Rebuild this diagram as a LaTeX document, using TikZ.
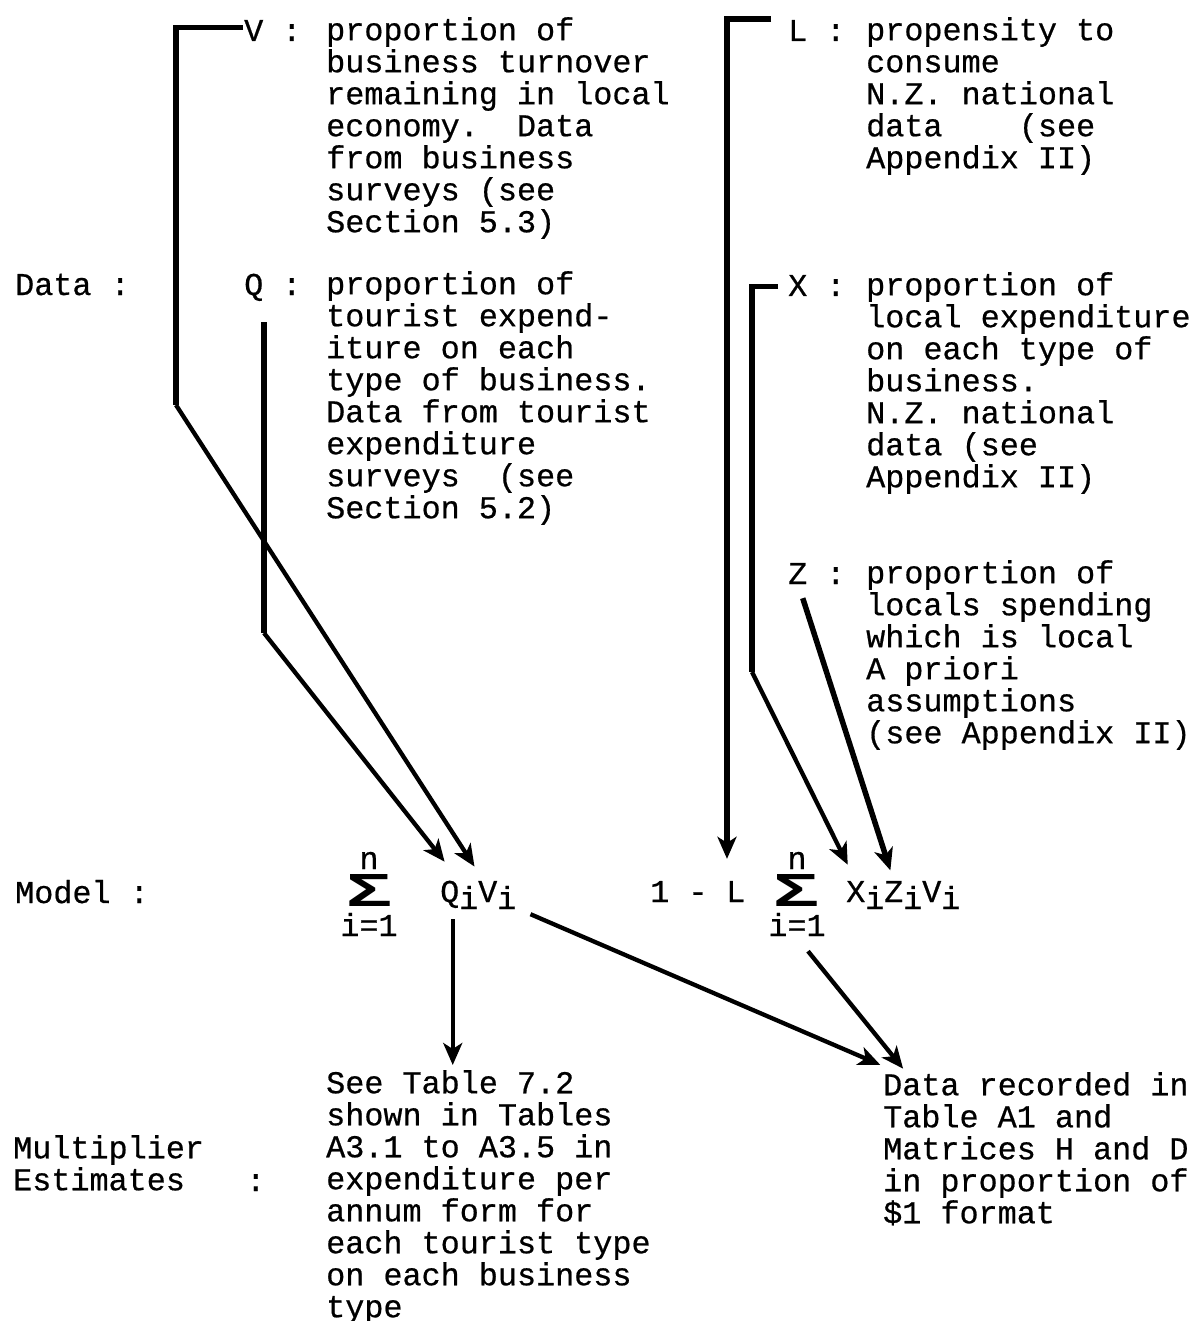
\documentclass[tikz,border=0pt]{standalone}
\usepackage{fontspec}
\setmainfont{Liberation Mono}[FakeBold=0.6]
\newfontfamily\sigfont{Liberation Sans}
\usetikzlibrary{arrows.meta,calc}

\begin{document}
\begin{tikzpicture}[x=1pt, y=-1pt, >={Stealth[length=22pt,width=19pt,inset=6pt]},
		font=\fontsize{31.8}{32}\selectfont\frenchspacing,
		txt/.style={anchor=base west, align=left, inner sep=0pt},
		blk/.style={anchor=north west, align=left, inner sep=0pt, execute at begin node=\rule{0pt}{24pt}},
		lim/.style={anchor=base, inner sep=0pt},
		lead/.style={line width=5.5pt},
		feed/.style={line width=4.3pt}]
		\useasboundingbox (0,0) rectangle (1193,1321);
		\coordinate (vK) at (176,405);
		\coordinate (qK) at (264,633);
		\coordinate (xK) at (752,672);
		% row titles (blocks hang 24pt above their first baseline)
		\node[txt] (tData) at (15,295) {Data :};
		\node[txt] (tModel) at (15,903) {Model :};
		\node[blk] (tMult) at (13,1135) {Multiplier\\Estimates};
		\node[txt] (tMultc) at (246,1191) {:};
		% data, left column
		\node[txt] (vlet) at (244,41) {V};
		\node[txt] (vcol) at (282,41) {:};
		\node[blk] (vtext) at (326,17) {proportion of\\business turnover\\remaining in local\\economy.\ \ Data\\from business\\surveys (see\\Section 5.3)};
		\node[txt] (qlet) at (244,295) {Q};
		\node[txt] (qcol) at (282,295) {:};
		\node[blk] (qtext) at (326,271) {proportion of\\tourist expend-\\iture on each\\type of business.\\Data from tourist\\expenditure\\surveys\ \ (see\\Section 5.2)};
		% data, right column
		\node[txt] (llet) at (788,41) {L};
		\node[txt] (lcol) at (826,41) {:};
		\node[blk] (ltext) at (866,17) {propensity to\\consume\\N.Z. national\\data\ \ \ \ (see\\Appendix II)};
		\node[txt] (xlet) at (788,296) {X};
		\node[txt] (xcol) at (826,296) {:};
		\node[blk] (xtext) at (866,272) {proportion of\\local expenditure\\on each type of\\business.\\N.Z. national\\data (see\\Appendix II)};
		\node[txt] (zlet) at (788,584) {Z};
		\node[txt] (zcol) at (826,584) {:};
		\node[blk] (ztext) at (866,560) {proportion of\\locals spending\\which is local\\A priori\\assumptions\\(see Appendix II)};
		% model
		\node[inner sep=0pt] (sigA) at (369,890) {\resizebox{46pt}{32pt}{\sigfont\bfseries Σ}};
		\node[lim] (nA) at (369,869) {n};
		\node[lim] (iA) at (369,936) {i=1};
		\node[txt] (mQ) at (440,902) {Q};
		\node[txt] (mQi) at (459,909) {i};
		\node[txt] (mV) at (478,902) {V};
		\node[txt] (mVi) at (497,909) {i};
		\node[txt] (mOne) at (650,902) {1 -};
		\node[txt] (mL) at (726,902) {L};
		\node[inner sep=0pt] (sigB) at (796,890) {\resizebox{46pt}{32pt}{\sigfont\bfseries Σ}};
		\node[lim] (nB) at (797,869) {n};
		\node[lim] (iB) at (797,936) {i=1};
		\node[txt] (mX) at (846,902) {X};
		\node[txt] (mXi) at (865,909) {i};
		\node[txt] (mZ) at (884,902) {Z};
		\node[txt] (mZi) at (903,909) {i};
		\node[txt] (mW) at (922,902) {V};
		\node[txt] (mWi) at (941,909) {i};
		% estimates
		\node[blk] (seeT) at (326,1070) {See Table 7.2\\shown in Tables\\A3.1 to A3.5 in\\expenditure per\\annum form for\\each tourist type\\on each business\\type};
		\node[blk] (dataT) at (883,1072) {Data recorded in\\Table A1 and\\Matrices H and D\\in proportion of\\\$1 format};
		% leaders into the model
		\draw[lead] ([xshift=-1pt,yshift=3pt]vlet.west) -| (vK);
		\draw[feed,->,shorten >=17pt] (vK) -- ([xshift=-4pt]mV.north);
		\draw[lead] ($(qlet.south -| qK)+(0,21)$) -- (qK);
		\draw[feed,->,shorten >=24pt] (qK) -- (mQ.north east);
		\draw[lead,->,shorten >=22pt] ($(llet.north west)+(-17,-1)$) -| ($(mL.north west)+(1,0)$);
		\draw[lead] ($(xlet.west)+(-10,1)$) -| (xK);
		\draw[feed,->,shorten >=18pt] (xK) -- (mX.north);
		\draw[lead,->,shorten >=11pt] ($(zlet.south)+(5,14)$) -- (mZ.north);
		% model to estimates
		\draw[feed,->] ($(mQ.south)+(3,11)$) -- ($(mQ.south |- seeT.north)+(3,-5)$);
		\draw[feed,->,shorten >=3pt] ($(mVi.south east)+(14,5)$) -- ($(dataT.north west)+(0,-6)$);
		\draw[feed,->,shorten >=3pt] ($(iB.south)+(11,15)$) -- ($(dataT.north west)+(22,-1)$);
	\end{tikzpicture}
\end{document}
